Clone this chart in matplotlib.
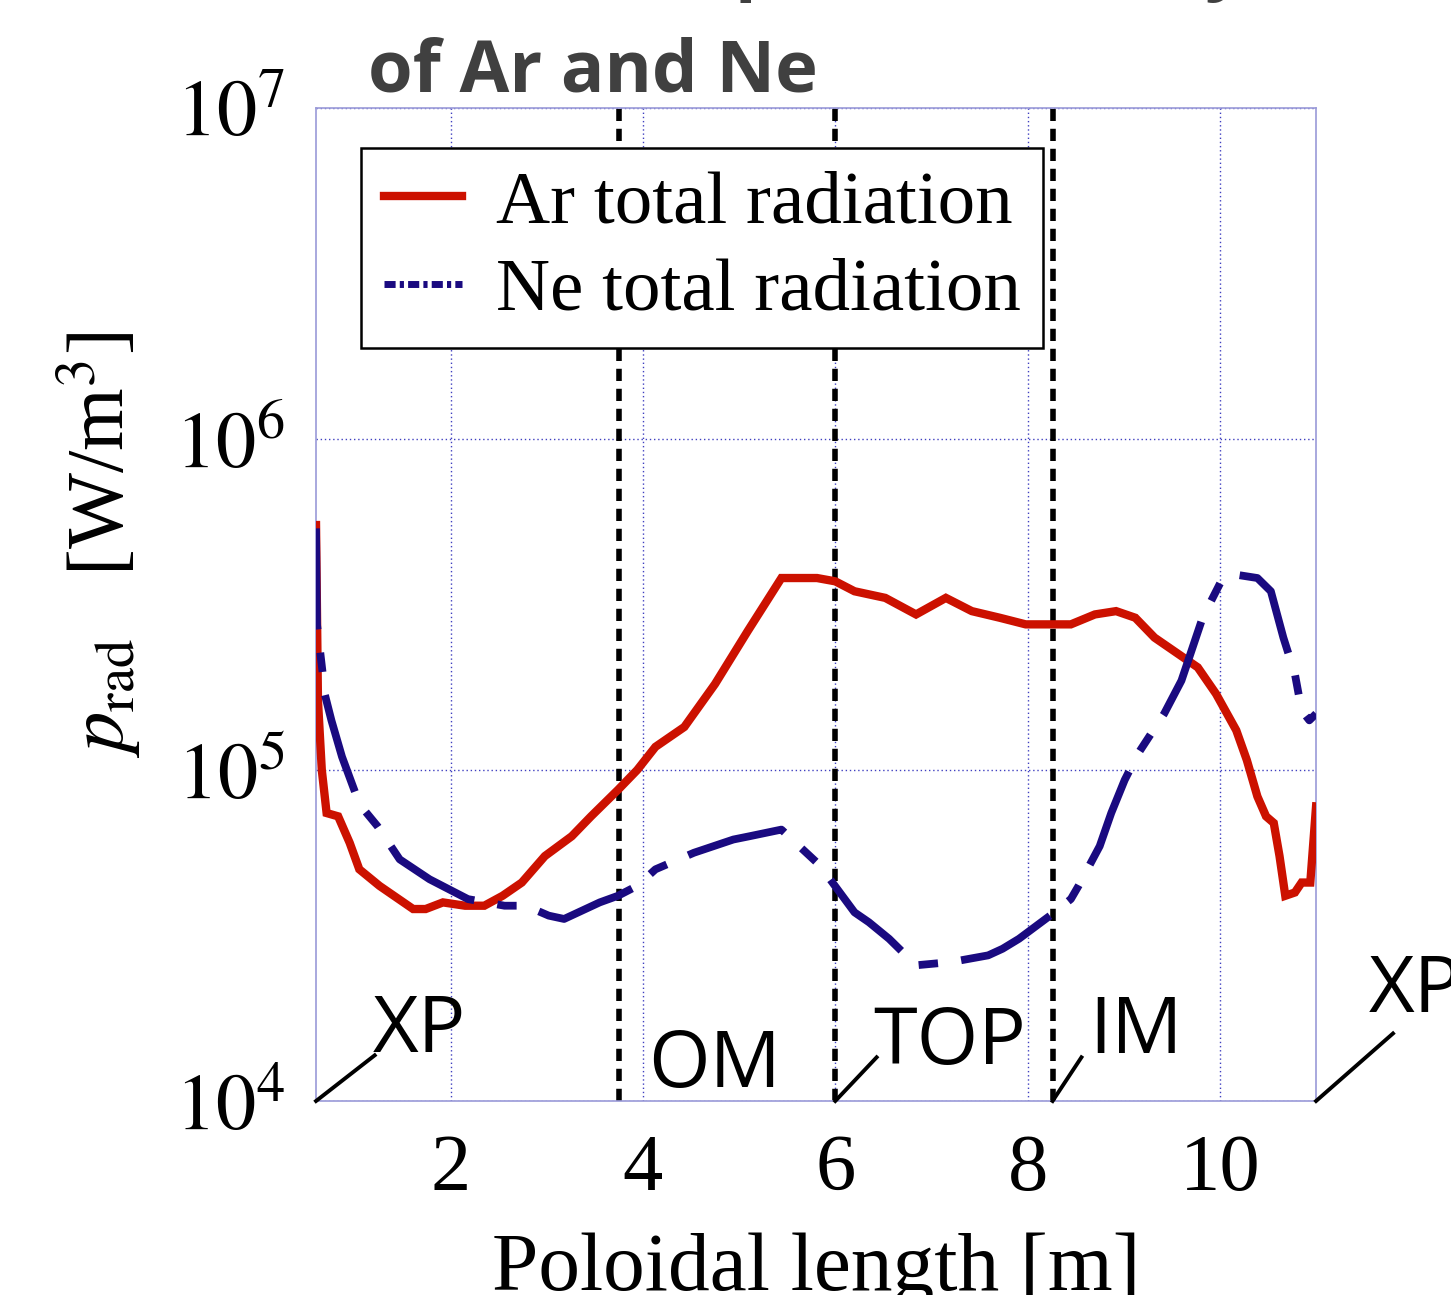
import matplotlib
matplotlib.use("Agg")
import matplotlib.pyplot as plt
from matplotlib.lines import Line2D
from matplotlib.ticker import FixedLocator

plt.rcParams['font.family'] = ['Liberation Serif', 'DejaVu Serif']
plt.rcParams['mathtext.fontset'] = 'stix'

# Ar total radiation (poloidal length [m], log10 of W/m^3)
ar_x = [0.60, 0.62, 0.66, 0.71, 0.83, 0.95, 1.05, 1.26, 1.61, 1.74, 1.92, 2.15,
        2.35, 2.54, 2.74, 2.98, 3.26, 3.46, 3.74, 3.94, 4.13, 4.43, 4.75, 5.09,
        5.44, 5.81, 6.00, 6.20, 6.52, 6.84, 7.15, 7.42, 7.71, 7.98, 8.45, 8.70,
        8.92, 9.12, 9.32, 9.57, 9.77, 9.96, 10.17, 10.28, 10.39, 10.48, 10.56,
        10.62, 10.68, 10.78, 10.85, 10.94, 11.00]
ar_log = [5.74, 5.21, 5.00, 4.87, 4.86, 4.78, 4.70, 4.65, 4.58, 4.58, 4.60, 4.59,
          4.59, 4.62, 4.66, 4.74, 4.80, 4.86, 4.94, 5.00, 5.07, 5.13, 5.26, 5.42,
          5.58, 5.58, 5.57, 5.54, 5.52, 5.47, 5.52, 5.48, 5.46, 5.44, 5.44, 5.47,
          5.48, 5.46, 5.40, 5.35, 5.31, 5.23, 5.12, 5.03, 4.92, 4.86, 4.84,
          4.74, 4.62, 4.63, 4.66, 4.66, 4.89]

# Ne total radiation
ne_x = [0.60, 0.61, 0.67, 0.69, 0.76, 0.87, 1.01, 1.07, 1.24, 1.47, 1.78, 2.18,
        2.37, 2.56, 2.78, 3.02, 3.18, 3.55, 3.74, 3.94, 4.13, 4.53, 4.94, 5.11,
        5.44, 5.81, 5.92, 6.20, 6.35, 6.56, 6.84, 7.21, 7.59, 7.74, 7.91, 8.28,
        8.45, 8.53, 8.75, 8.87, 9.01, 9.15, 9.42, 9.60, 9.82, 10.03, 10.17,
        10.39, 10.53, 10.66, 10.78, 10.85, 10.93, 11.00]
ne_log = [5.73, 5.44, 5.29, 5.23, 5.15, 5.04, 4.93, 4.89, 4.83, 4.73, 4.67, 4.61,
          4.60, 4.59, 4.59, 4.56, 4.55, 4.60, 4.62, 4.65, 4.70, 4.75, 4.79, 4.80,
          4.82, 4.72, 4.68, 4.57, 4.54, 4.49, 4.41, 4.42, 4.44, 4.46, 4.49, 4.57,
          4.61, 4.65, 4.77, 4.87, 4.97, 5.05, 5.17, 5.27, 5.46, 5.58, 5.59,
          5.58, 5.54, 5.40, 5.29, 5.18, 5.15, 5.17]

region_x = [3.75, 6.00, 8.26]
y_ticks = [1e4, 1e5, 1e6, 1e7]
y_ticklabels = ['$10^4$', '$10^5$', '$10^6$', '$10^7$']
x_ticks = [2, 4, 6, 8, 10]

# (label, line start x, line end x, line end y, text x, text y) y in axes fraction
marks = [('XP', 0.60, 1.21, 0.046, 1.19, 0.030),
         ('OM', None, None, None, 4.05, -0.005),
         ('TOP', 6.00, 6.43, 0.044, 6.39, 0.018),
         ('IM', 8.26, 8.56, 0.044, 8.64, 0.029),
         ('XP', 11.00, 11.80, 0.068, 11.55, 0.070)]

fig = plt.figure(figsize=(14.51, 12.95), dpi=100)
ax = fig.add_axes([0.2178, 0.1498, 0.6892, 0.7668])

ar_y = [10 ** v for v in ar_log]
ne_y = [10 ** v for v in ne_log]

ax.plot(ar_x, ar_y, color='#cc1100', lw=6.0, solid_joinstyle='miter', zorder=3)
ax.plot(ne_x, ne_y, color='#1a0a80', lw=5.6, dashes=(13, 3, 2.5, 3), zorder=3)

for xv in region_x:
    ax.axvline(xv, color='black', lw=4.0, dashes=(2.2, 1.4), zorder=2)

ax.set_yscale('log')
ax.set_xlim(0.6, 11.0)
ax.set_ylim(1e4, 1e7)
ax.yaxis.set_major_locator(FixedLocator(y_ticks))
ax.yaxis.set_minor_locator(FixedLocator([]))
ax.set_yticklabels(y_ticklabels)
ax.set_xticks(x_ticks)
ax.set_xticklabels([str(t) for t in x_ticks])
ax.tick_params(length=0, labelsize=58)
ax.tick_params(axis='x', pad=24)
ax.tick_params(axis='y', pad=22)
ax.grid(True, color='#4040c0', lw=1.0, ls=(0, (1, 2)))
for sp in ax.spines.values():
    sp.set_color('#9a9ad8')
    sp.set_linewidth(1.2)

ax.set_xlabel('Poloidal length [m]', fontsize=60, labelpad=18)
ax.set_ylabel('$p_{\\mathrm{rad}}$   [W/m$^3$]', fontsize=58)
ax.yaxis.set_label_coords(-0.172, 0.56)

# legend handles drawn as in the original figure
handles = [Line2D([], [], color='#cc1100', lw=6.0),
           Line2D([], [], color='#1a0a80', lw=5.0, dashes=(1.6, 0.6, 0.6, 0.6))]
leg = ax.legend(handles, ['Ar total radiation', 'Ne total radiation'],
                loc='upper left', bbox_to_anchor=(0.045, 0.96), fontsize=54,
                frameon=True, fancybox=False, edgecolor='black', framealpha=1,
                handlelength=1.05, handletextpad=0.45, borderpad=0.3,
                labelspacing=0.25, borderaxespad=0)
leg.get_frame().set_linewidth(1.8)
leg.set_zorder(5)

trans = ax.get_xaxis_transform()
for lab, x0, x1, y1, tx, ty in marks:
    if x0 is not None:
        ax.plot([x0, x1], [0.0, y1], transform=trans, color='black', lw=2.8,
                clip_on=False, zorder=4)
    ax.text(tx, ty, lab, transform=trans, fontsize=57, family='Open Sans',
            ha='left', va='bottom', clip_on=False, zorder=4)

fig.text(0.2536, 1.011, 'Radiation power density', fontsize=52, family='Open Sans',
         weight='bold', color='#404040', ha='left', va='baseline')
fig.text(0.2536, 0.929, 'of Ar and Ne', fontsize=52, family='Open Sans',
         weight='bold', color='#404040', ha='left', va='baseline')

fig.savefig('out.png', dpi=100, facecolor='white')
